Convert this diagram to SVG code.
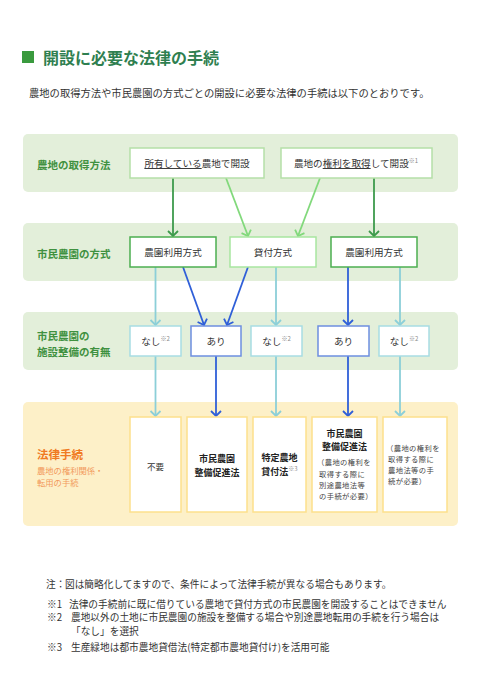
<svg xmlns="http://www.w3.org/2000/svg" width="482" height="682" viewBox="0 0 482 682">
<style>
text{font-family:"Noto Sans CJK JP","Noto Sans",sans-serif;fill:#333}
.band{fill:#e3efda}
.band4{fill:#fdf0c8}
.lbl{font-size:10.5px;font-weight:bold;fill:#3f9140}
.bx{fill:#fff;stroke-width:1.5}
.t{font-size:9.6px;text-anchor:middle;dominant-baseline:central}
.sup{font-size:6px;fill:#888}
.b4{font-size:9px;font-weight:bold;text-anchor:middle;dominant-baseline:central;fill:#222}
.sm{font-size:7.3px;letter-spacing:0.4px;dominant-baseline:central;fill:#444}
.note{font-size:9.7px;dominant-baseline:central;fill:#333}
.cn line{stroke-width:1.8;fill:none}
.dg{stroke:#3d9a4c}
.lg{stroke:#82d97c}
.tl{stroke:#8ccfd8}
.bl{stroke:#2f5fd8}
</style>
<defs>
<marker id="mdg" markerUnits="userSpaceOnUse" markerWidth="14" markerHeight="14" viewBox="-7 -7 14 14" orient="auto"><path d="M-5,-5 L0,0 L-5,5" fill="none" stroke="#3d9a4c" stroke-width="1.8"/></marker>
<marker id="mlg" markerUnits="userSpaceOnUse" markerWidth="14" markerHeight="14" viewBox="-7 -7 14 14" orient="auto"><path d="M-5,-5 L0,0 L-5,5" fill="none" stroke="#82d97c" stroke-width="1.8"/></marker>
<marker id="mtl" markerUnits="userSpaceOnUse" markerWidth="14" markerHeight="14" viewBox="-7 -7 14 14" orient="auto"><path d="M-5,-5 L0,0 L-5,5" fill="none" stroke="#8ccfd8" stroke-width="1.8"/></marker>
<marker id="mbl" markerUnits="userSpaceOnUse" markerWidth="14" markerHeight="14" viewBox="-7 -7 14 14" orient="auto"><path d="M-5,-5 L0,0 L-5,5" fill="none" stroke="#2f5fd8" stroke-width="1.8"/></marker>
</defs>
<rect width="482" height="682" fill="#fff"/>

<g id="title">
<rect x="22" y="51" width="12" height="12" fill="#3a9a3e"/>
<text x="43" y="57" style="font-size:16px;font-weight:bold;fill:#2f7f50;dominant-baseline:central">開設に必要な法律の手続</text>
<text x="29" y="92" style="font-size:10.3px;dominant-baseline:central;fill:#333">農地の取得方法や市民農園の方式ごとの開設に必要な法律の手続は以下のとおりです。</text>
</g>

<g id="bands">
<rect class="band" x="23" y="134" width="435" height="58" rx="5"/>
<rect class="band" x="23" y="223" width="435" height="58" rx="5"/>
<rect class="band" x="23" y="312" width="435" height="58" rx="5"/>
<rect class="band4" x="23" y="402" width="435" height="124" rx="5"/>
<text class="lbl" x="37" y="164" dominant-baseline="central">農地の取得方法</text>
<text class="lbl" x="37" y="253" dominant-baseline="central">市民農園の方式</text>
<text class="lbl" x="37" y="335" dominant-baseline="central">市民農園の</text>
<text class="lbl" x="37" y="351" dominant-baseline="central">施設整備の有無</text>
<text x="37" y="454" style="font-size:11.5px;font-weight:bold;fill:#f07a22;dominant-baseline:central">法律手続</text>
<text x="37" y="470" style="font-size:8.3px;fill:#f29a5c;dominant-baseline:central">農地の権利関係・</text>
<text x="37" y="482" style="font-size:8.3px;fill:#f29a5c;dominant-baseline:central">転用の手続</text>
</g>

<g class="cn" id="connectors">
<line class="dg" x1="173" y1="178" x2="173" y2="236" marker-end="url(#mdg)"/>
<line class="lg" x1="226" y1="178" x2="248" y2="236" marker-end="url(#mlg)"/>
<line class="lg" x1="320" y1="178" x2="298" y2="236" marker-end="url(#mlg)"/>
<line class="dg" x1="374" y1="178" x2="374" y2="236" marker-end="url(#mdg)"/>
<line class="tl" x1="155.5" y1="267" x2="155.5" y2="325" marker-end="url(#mtl)"/>
<line class="bl" x1="183" y1="267" x2="204" y2="325" marker-end="url(#mbl)"/>
<line class="bl" x1="248" y1="267" x2="227" y2="325" marker-end="url(#mbl)"/>
<line class="tl" x1="276" y1="267" x2="276" y2="325" marker-end="url(#mtl)"/>
<line class="bl" x1="348" y1="267" x2="348" y2="325" marker-end="url(#mbl)"/>
<line class="tl" x1="400" y1="267" x2="400" y2="325" marker-end="url(#mtl)"/>
<line class="tl" x1="155.5" y1="356" x2="155.5" y2="416" marker-end="url(#mtl)"/>
<line class="bl" x1="216" y1="356" x2="216" y2="416" marker-end="url(#mbl)"/>
<line class="tl" x1="276" y1="356" x2="276" y2="416" marker-end="url(#mtl)"/>
<line class="bl" x1="348" y1="356" x2="348" y2="416" marker-end="url(#mbl)"/>
<line class="tl" x1="400" y1="356" x2="400" y2="416" marker-end="url(#mtl)"/>
</g>

<g id="own">
<rect class="bx" x="130" y="148" width="134" height="30" stroke="#b5dfa8"/>
<text class="t" x="197" y="163"><tspan text-decoration="underline">所有している</tspan>農地で開設</text>
</g>
<g id="acquire">
<rect class="bx" x="281" y="148" width="151" height="30" stroke="#b5dfa8"/>
<text class="t" x="356" y="163">農地の<tspan text-decoration="underline">権利を取得</tspan>して開設<tspan class="sup" dy="-3">※1</tspan></text>
</g>

<g id="noen1">
<rect class="bx" x="130" y="237" width="86" height="30" stroke="#4caf50"/>
<text class="t" x="173" y="252">農園利用方式</text>
</g>
<g id="kashitsuke">
<rect class="bx" x="230" y="237" width="86" height="30" stroke="#a8e6a0"/>
<text class="t" x="273" y="252">貸付方式</text>
</g>
<g id="noen2">
<rect class="bx" x="331" y="237" width="86" height="30" stroke="#4caf50"/>
<text class="t" x="374" y="252">農園利用方式</text>
</g>

<g id="nashi1">
<rect class="bx" x="130" y="326" width="51" height="30" stroke="#a8dde3"/>
<text class="t" x="155.5" y="341">なし<tspan class="sup" dy="-3">※2</tspan></text>
</g>
<g id="ari1">
<rect class="bx" x="191" y="326" width="50" height="30" stroke="#6d8fe0"/>
<text class="t" x="216" y="341">あり</text>
</g>
<g id="nashi2">
<rect class="bx" x="251" y="326" width="51" height="30" stroke="#a8dde3"/>
<text class="t" x="276.5" y="341">なし<tspan class="sup" dy="-3">※2</tspan></text>
</g>
<g id="ari2">
<rect class="bx" x="318" y="326" width="51" height="30" stroke="#6d8fe0"/>
<text class="t" x="343.5" y="341">あり</text>
</g>
<g id="nashi3">
<rect class="bx" x="379" y="326" width="50" height="30" stroke="#a8dde3"/>
<text class="t" x="404" y="341">なし<tspan class="sup" dy="-3">※2</tspan></text>
</g>

<g id="fuyou">
<rect class="bx" x="130" y="417" width="51" height="95" stroke="#fde08c"/>
<text class="t" x="155.5" y="466" style="font-size:8.5px">不要</text>
</g>
<g id="seibi1">
<rect class="bx" x="187" y="417" width="60" height="95" stroke="#fde08c"/>
<text class="b4" x="217" y="458">市民農園</text>
<text class="b4" x="217" y="472">整備促進法</text>
</g>
<g id="tokutei">
<rect class="bx" x="253" y="417" width="53" height="95" stroke="#fde08c"/>
<text class="b4" x="279.5" y="457">特定農地</text>
<text class="b4" x="279.5" y="471">貸付法<tspan style="font-size:6px;font-weight:normal;fill:#888" dy="-3">※3</tspan></text>
</g>
<g id="seibi2">
<rect class="bx" x="312" y="417" width="65" height="95" stroke="#fde08c"/>
<text class="b4" x="344.5" y="433">市民農園</text>
<text class="b4" x="344.5" y="446">整備促進法</text>
<text class="sm" x="317" y="462">（農地の権利を</text>
<text class="sm" x="319" y="474">取得する際に</text>
<text class="sm" x="319" y="485">別途農地法等</text>
<text class="sm" x="319" y="496">の手続が必要）</text>
</g>
<g id="nochi">
<rect class="bx" x="383" y="417" width="64" height="95" stroke="#fde08c"/>
<text class="sm" x="386" y="448">（農地の権利を</text>
<text class="sm" x="388" y="459">取得する際に</text>
<text class="sm" x="388" y="470">農地法等の手</text>
<text class="sm" x="388" y="481">続が必要）</text>
</g>

<g id="notes">
<text class="note" x="46" y="584">注：</text>
<text class="note" x="65" y="584">図は簡略化してますので、条件によって法律手続が異なる場合もあります。</text>
<text class="note" x="47" y="604">※1</text>
<text class="note" x="69" y="604">法律の手続前に既に借りている農地で貸付方式の市民農園を開設することはできません</text>
<text class="note" x="47" y="617">※2</text>
<text class="note" x="71" y="617">農地以外の土地に市民農園の施設を整備する場合や別途農地転用の手続を行う場合は</text>
<text class="note" x="71" y="631">「なし」を選択</text>
<text class="note" x="47" y="647">※3</text>
<text class="note" x="71" y="647">生産緑地は都市農地貸借法(特定都市農地貸付け)を活用可能</text>
</g>
</svg>
